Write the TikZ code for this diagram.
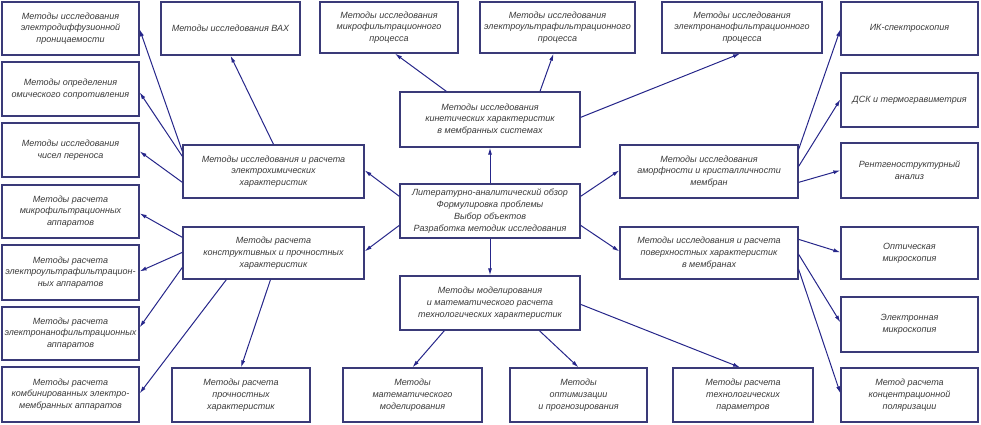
\documentclass[tikz,border=0pt]{standalone}
\usepackage{fontspec}
\setmainfont{Liberation Sans}
\usetikzlibrary{arrows.meta}
\definecolor{boxc}{HTML}{3A3A78}
\definecolor{arrc}{HTML}{26268A}
\definecolor{txtc}{HTML}{3A3A3A}
\tikzset{
  bx/.style={draw=boxc, line width=1.3pt, fill=white, align=center, inner sep=0pt,
    text=txtc, font=\fontsize{9}{11.8}\selectfont\itshape},
  arr/.style={draw=arrc, line width=1pt, -{Latex[length=7pt,width=4pt]}}
}
\newcommand\mbx[6]{\node[bx, minimum width={(#4-#2)*1pt}, minimum height={(#5-#3)*1pt}] (#1) at ({(#2+#4)/2},{(#3+#5)/2}) {#6};}
\begin{document}
\begin{tikzpicture}[x=1pt,y=-1pt]
\useasboundingbox (0,0) rectangle (981,424);
% left column
\mbx{ed}{2}{2}{139}{55}{Методы исследования\\электродиффузионной\\проницаемости}
\mbx{ohm}{2}{62}{139}{116}{Методы определения\\омического сопротивления}
\mbx{trans}{2}{123}{139}{177}{Методы исследования\\чисел переноса}
\mbx{mapp}{2}{185}{139}{238}{Методы расчета\\микрофильтрационных\\аппаратов}
\mbx{euapp}{2}{245}{139}{300}{Методы расчета\\электроультрафильтрацион-\\ных аппаратов}
\mbx{enapp}{2}{307}{139}{360}{Методы расчета\\электронанофильтрационных\\аппаратов}
\mbx{comb}{2}{367}{139}{422}{Методы расчета\\комбинированных электро-\\мембранных аппаратов}
% top row
\mbx{vax}{161}{2}{300}{55}{Методы исследования ВАХ}
\mbx{micro}{320}{2}{458}{53}{Методы исследования\\микрофильтрационного\\процесса}
\mbx{eultra}{480}{2}{635}{53}{Методы исследования\\электроультрафильтрационного\\процесса}
\mbx{enano}{662}{2}{822}{53}{Методы исследования\\электронанофильтрационного\\процесса}
% right column
\mbx{ir}{841}{2}{978}{55}{ИК-спектроскопия}
\mbx{dsc}{841}{73}{978}{127}{ДСК и термогравиметрия}
\mbx{xray}{841}{143}{978}{198}{Рентгеноструктурный\\анализ}
\mbx{optm}{841}{227}{978}{279}{Оптическая\\микроскопия}
\mbx{elm}{841}{297}{978}{352}{Электронная\\микроскопия}
\mbx{conc}{841}{368}{978}{422}{Метод расчета\\концентрационной\\поляризации}
% middle
\mbx{kin}{400}{92}{580}{147}{Методы исследования\\кинетических характеристик\\в мембранных системах}
\mbx{c}{400}{184}{580}{238}{Литературно-аналитический обзор\\Формулировка проблемы\\Выбор объектов\\Разработка методик исследования}
\mbx{mod}{400}{276}{580}{330}{Методы моделирования\\и математического расчета\\технологических характеристик}
\mbx{ech}{183}{145}{364}{198}{Методы исследования и расчета\\электрохимических\\характеристик}
\mbx{con}{183}{227}{364}{279}{Методы расчета\\конструктивных и прочностных\\характеристик}
\mbx{amo}{620}{145}{798}{198}{Методы исследования\\аморфности и кристалличности\\мембран}
\mbx{sur}{620}{227}{798}{279}{Методы исследования и расчета\\поверхностных характеристик\\в мембранах}
% bottom row
\mbx{str}{172}{368}{310}{422}{Методы расчета\\прочностных\\характеристик}
\mbx{mm}{343}{368}{482}{422}{Методы\\математического\\моделирования}
\mbx{opt}{510}{368}{647}{422}{Методы\\оптимизации\\и прогнозирования}
\mbx{tech}{673}{368}{813}{422}{Методы расчета\\технологических\\параметров}
% arrows from centre
\draw[arr] (c.north) -- (kin.south);
\draw[arr] (c.south) -- (mod.north);
\draw[arr] ([yshift=-13pt]c.north west) -- ([yshift=-26pt]ech.north east);
\draw[arr] ([yshift=-42pt]c.north west) -- ([yshift=-25pt]con.north east);
\draw[arr] ([yshift=-13pt]c.north east) -- ([yshift=-26pt]amo.north west);
\draw[arr] ([yshift=-42pt]c.north east) -- ([yshift=-25pt]sur.north west);
% kinetic
\draw[arr] ([xshift=47pt]kin.north west) -- ([xshift=6pt]micro.south);
\draw[arr] ([xshift=50pt]kin.north) -- ([xshift=-4pt]eultra.south);
\draw[arr] ([yshift=-26pt]kin.north east) -- ([xshift=-2pt]enano.south);
% electrochemical
\draw[arr] (ech.north) -- (vax.south);
\draw[arr] ([yshift=-7pt]ech.north west) -- ([yshift=-28pt]ed.north east);
\draw[arr] ([yshift=-12pt]ech.north west) -- ([yshift=-31pt]ohm.north east);
\draw[arr] ([yshift=-38pt]ech.north west) -- ([yshift=-29pt]trans.north east);
% constructive
\draw[arr] ([yshift=-11pt]con.north west) -- ([yshift=-29pt]mapp.north east);
\draw[arr] ([yshift=-26pt]con.north west) -- ([yshift=-27pt]euapp.north east);
\draw[arr] ([yshift=-41pt]con.north west) -- ([yshift=-21pt]enapp.north east);
\draw[arr] ([xshift=44pt]con.south west) -- ([yshift=-27pt]comb.north east);
\draw[arr] ([xshift=-3pt]con.south) -- (str.north);
% modelling
\draw[arr] ([xshift=45pt]mod.south west) -- (mm.north);
\draw[arr] ([xshift=140pt]mod.south west) -- (opt.north);
\draw[arr] ([yshift=-29pt]mod.north east) -- ([xshift=-3pt]tech.north);
% amorphous
\draw[arr] ([yshift=-5pt]amo.north east) -- ([yshift=-28pt]ir.north west);
\draw[arr] ([yshift=-22pt]amo.north east) -- ([yshift=-27pt]dsc.north west);
\draw[arr] ([yshift=-38pt]amo.north east) -- ([yshift=-28pt]xray.north west);
% surface
\draw[arr] ([yshift=-13pt]sur.north east) -- ([yshift=-26pt]optm.north west);
\draw[arr] ([yshift=-28pt]sur.north east) -- ([yshift=-26pt]elm.north west);
\draw[arr] ([yshift=-43pt]sur.north east) -- ([yshift=-26pt]conc.north west);
\end{tikzpicture}
\end{document}
